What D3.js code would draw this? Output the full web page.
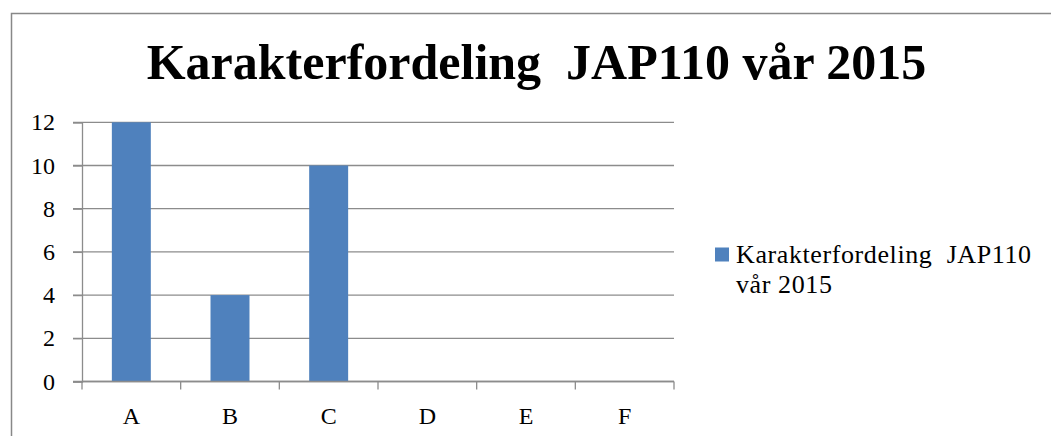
<!DOCTYPE html>
<html><head><meta charset="utf-8">
<script src="https://cdn.jsdelivr.net/npm/d3@7/dist/d3.min.js"></script>
<style>body{margin:0;background:#fff}svg{display:block}text{white-space:pre}</style>
</head><body>
<script>
const title = "Karakterfordeling  JAP110 vår 2015";
const seriesName = ["Karakterfordeling  JAP110", "vår 2015"];
const categories = ["A","B","C","D","E","F"];
const values = [12, 4, 10, 0, 0, 0];
const yTicks = [0,2,4,6,8,10,12];

const W = 1051, H = 436;
const font = "Liberation Serif";
const svg = d3.select("body").append("svg").attr("width", W).attr("height", H);

svg.append("rect").attr("x", 11.5).attr("y", 13.5).attr("width", W).attr("height", H)
  .attr("fill", "none").attr("stroke", "#888").attr("stroke-width", 1.5);

const x0 = 82, x1 = 674, yTop = 122.3, yBot = 381.5;
const x = d3.scaleBand().domain(categories).range([x0, x1]).paddingInner(0).paddingOuter(0);
const y = d3.scaleLinear().domain([0, 12]).range([yBot, yTop]);

svg.append("g").selectAll("line").data(yTicks).join("line")
  .attr("x1", x0 - 9).attr("x2", x1)
  .attr("y1", d => y(d)).attr("y2", d => y(d))
  .attr("stroke", "#8c8c8c").attr("stroke-width", 1.3);

const bw = x.bandwidth() * 0.395;
svg.append("g").selectAll("rect").data(values).join("rect")
  .attr("x", (d, i) => x(categories[i]) + (x.bandwidth() - bw) / 2)
  .attr("width", bw)
  .attr("y", d => y(d))
  .attr("height", d => yBot - y(d))
  .attr("fill", "#4F81BD");

const yAxis = d3.axisLeft(y).tickValues(yTicks).tickSize(9).tickPadding(18);
const gy = svg.append("g").attr("transform", `translate(${x0},0)`).call(yAxis)
  .attr("font-family", font).attr("font-size", 24);
gy.select(".domain").attr("stroke", "#8c8c8c").attr("stroke-width", 1.3);
gy.selectAll(".tick line").attr("stroke", "#8c8c8c").attr("stroke-width", 1.3);
gy.selectAll("text").style("font-family", font).style("font-size", "24px").attr("fill", "#000");

const edges = categories.map(c => x(c)).concat([x1]);
const gx = svg.append("g").attr("transform", `translate(0,${yBot})`);
gx.append("line").attr("x1", x0).attr("x2", x1).attr("stroke", "#8c8c8c").attr("stroke-width", 1.3);
gx.selectAll(".tk").data(edges).join("line").attr("class", "tk")
  .attr("x1", d => d).attr("x2", d => d).attr("y1", 0).attr("y2", 8)
  .attr("stroke", "#8c8c8c").attr("stroke-width", 1.3);
gx.selectAll("text").data(categories).join("text")
  .attr("x", d => x(d) + x.bandwidth() / 2).attr("y", 42.5)
  .attr("text-anchor", "middle").style("font-family", font).style("font-size", "24px")
  .text(d => d);

svg.append("text").attr("x", 536.5).attr("y", 78.5).attr("text-anchor", "middle")
  .style("font-family", font).style("font-weight", "bold").style("font-size", "50px")
  .text(title);

svg.append("rect").attr("x", 715).attr("y", 247.5).attr("width", 14).attr("height", 14).attr("fill", "#4F81BD");
const lt = svg.append("text").style("font-family", font).style("font-size", "26px").style("letter-spacing", "0.6px");
lt.selectAll("tspan").data(seriesName).join("tspan")
  .attr("x", 736).attr("y", (d, i) => 263 + i * 30).text(d => d);
</script>
</body></html>
